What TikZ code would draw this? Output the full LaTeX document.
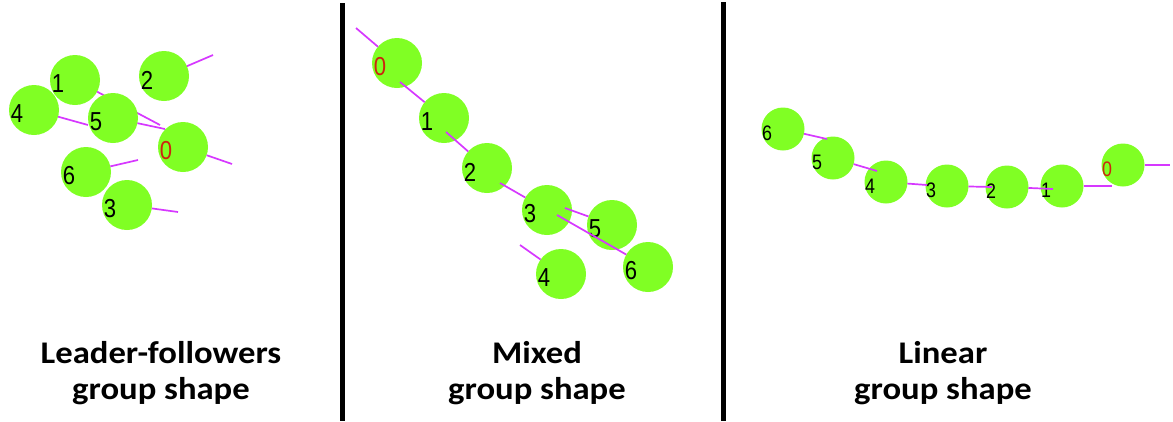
\documentclass[tikz,border=0pt]{standalone}
\usepackage{fontspec}
\setmainfont{Carlito}
\newfontfamily\digitfont{Liberation Sans}
\usepackage{tikz}

\definecolor{robotgreen}{RGB}{128,255,36}
\definecolor{headpink}{RGB}{214,56,255}
\definecolor{leaderred}{RGB}{205,35,15}

\begin{document}
\begin{tikzpicture}[
                    x=1pt, y=-1pt,
                    robot/.style={circle, fill=robotgreen, minimum size=50pt, inner sep=0pt, outer sep=0pt},
                    robot small/.style={robot, minimum size=43pt},
                    tag/.style={font=\digitfont\fontsize{26}{26}\selectfont, inner sep=0pt, xscale=0.85},
                    tag small/.style={tag, font=\digitfont\fontsize{21}{21}\selectfont},
                    heading/.style={draw=headpink, line width=1.7pt},
                    divider/.style={draw=black, line width=4.5pt},
                    caption/.style={font=\bfseries\fontsize{31.5}{36}\selectfont, align=center, anchor=north, inner sep=0pt, xscale=1.1}
                ]
                  \useasboundingbox (0,0) rectangle (1173,421);

                  % leader-followers
                  \foreach \n/\col/\px/\py/\hx/\hy in {0/leaderred/183/147/232/164, 1/black/75/80/160/125,
                      2/black/164/76/213/55, 3/black/127/205/178/212, 4/black/34/110/88/125,
                      5/black/113/118/165/129, 6/black/86/172/138/160} {
                    \node[robot] (l\n) at (\px,\py) {};
                    \node[tag, text=\col] (l\n t) at ([shift={(-17,4)}]l\n.center) {\n};
                    \coordinate (l\n h) at (\hx,\hy);
                    \draw[heading] (l\n) -- (l\n h);
                  }

                  % mixed
                  \foreach \n/\col/\px/\py/\hx/\hy in {0/leaderred/397/63/356/28, 1/black/444/118/400/82,
                      2/black/487/168/446/132, 3/black/547/210/500/183, 4/black/561/274/520/245,
                      5/black/612/225/565/208, 6/black/648/267/557/215} {
                    \node[robot] (m\n) at (\px,\py) {};
                    \node[tag, text=\col] (m\n t) at ([shift={(-17,4)}]m\n.center) {\n};
                    \coordinate (m\n h) at (\hx,\hy);
                    \draw[heading] (m\n) -- (m\n h);
                  }

                  % linear
                  \foreach \n/\col/\px/\py/\hx/\hy in {0/leaderred/1123/165/1170/165, 1/black/1062/186/1112/186,
                      2/black/1007/187/1053/189, 3/black/947/186/992/187, 4/black/886/182/927/185,
                      5/black/833/158/877/171, 6/black/783/129/827/139} {
                    \node[robot small] (r\n) at (\px,\py) {};
                    \node[tag small, text=\col] (r\n t) at ([shift={(-16,4)}]r\n.center) {\n};
                    \coordinate (r\n h) at (\hx,\hy);
                    \draw[heading] (r\n) -- (r\n h);
                  }

                  % dividers
                  \coordinate (divA top) at (342.5,3);
                  \coordinate (divA bot) at (342.5,421);
                  \coordinate (divB top) at (723.5,2);
                  \coordinate (divB bot) at (723.5,421);
                  \draw[divider] (divA top) -- (divA bot);
                  \draw[divider] (divB top) -- (divB bot);

                  % captions
                  \node[caption] (capA) at (161,341) {Leader-followers\\group shape};
                  \node[caption] (capB) at (537,341) {Mixed\\group shape};
                  \node[caption] (capC) at (943,341) {Linear\\group shape};
                \end{tikzpicture}
\end{document}
